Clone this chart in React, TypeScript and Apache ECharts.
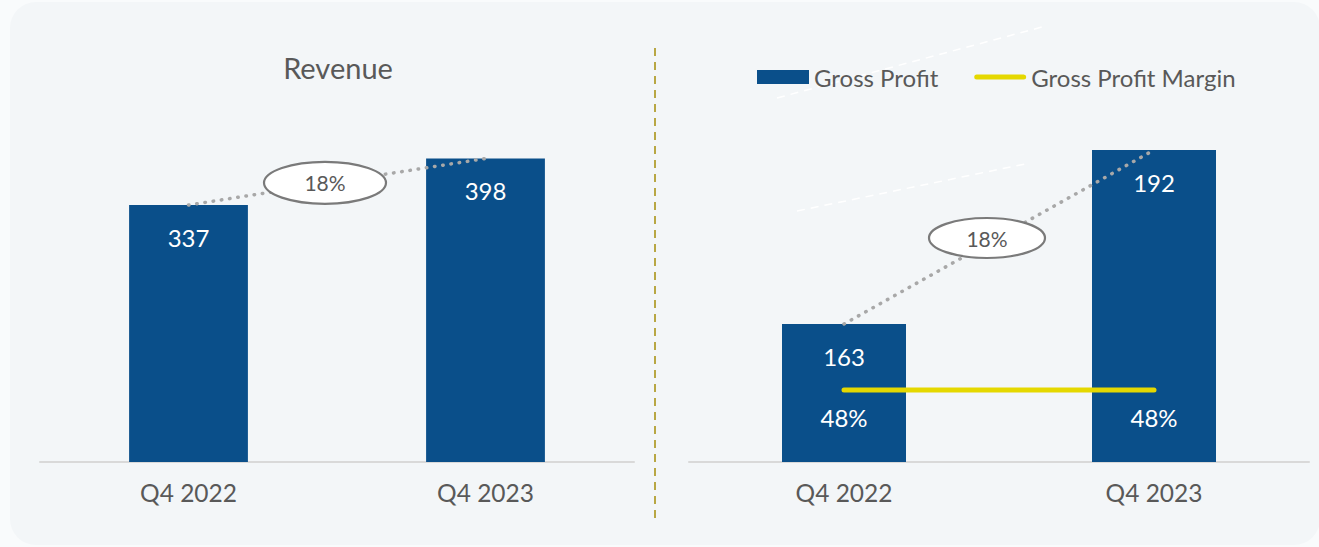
import React, { useEffect, useRef } from "react";
import * as echarts from "echarts";

const categories = ["Q4 2022", "Q4 2023"];
const revenue = [337, 398];
const grossProfit = [163, 192];
const grossMargin = [48, 48];
const growthLabels = ["18%", "18%"];
const leftTitle = "Revenue";
const legendNames = ["Gross Profit", "Gross Profit Margin"];

export default function App() {
  const ref = useRef<HTMLDivElement>(null);

  useEffect(() => {
    const chart = echarts.init(ref.current!, null, { renderer: "svg" });
    const font = "Lato, 'Open Sans', sans-serif";
    const grey = "#595959";
    const blue = "#0a4f8a";
    const yellow = "#e5d800";
    const dotted = {
      type: [0.5, 7.8] as any,
      width: 3.5,
      cap: "round" as const,
      color: "#a8a8a8",
    };
    const axisX = (gi: number, fs: number) => ({
      type: "category",
      gridIndex: gi,
      data: categories,
      axisLine: { lineStyle: { color: "#d9d9d9", width: 2 } },
      axisTick: { show: false },
      axisLabel: { color: grey, fontSize: fs, fontFamily: font, margin: 18 },
    });
    const valueLabel = {
      show: true,
      position: "insideTop",
      distance: 20,
      color: "#ffffff",
      fontSize: 24,
      fontFamily: font,
    };

    chart.setOption({
      animation: false,
      backgroundColor: "#f9fbfc",
      grid: [
        { left: 40, width: 594, top: 157, height: 305 },
        { left: 689, width: 620, top: 132, height: 330 },
      ],
      legend: {
        left: 752,
        top: 60,
        itemWidth: 52,
        itemHeight: 14,
        itemGap: 36,
        textStyle: { color: grey, fontSize: 24, fontFamily: font },
        data: [
          { name: legendNames[0], icon: "rect" },
          {
            name: legendNames[1],
            icon: "path://M2.5,0H49.5A2.5,2.5,0,0,1,49.5,5H2.5A2.5,2.5,0,0,1,2.5,0Z",
          },
        ],
      },
      xAxis: [axisX(0, 24.5), axisX(1, 24.5)],
      yAxis: [
        { type: "value", gridIndex: 0, min: 0, max: 400, show: false },
        { type: "value", gridIndex: 1, min: 140, max: 195, show: false },
        { type: "value", gridIndex: 1, min: 0, max: 220, show: false },
      ],
      series: [
        {
          name: leftTitle,
          type: "bar",
          xAxisIndex: 0,
          yAxisIndex: 0,
          data: revenue,
          barWidth: "40%",
          itemStyle: { color: blue },
          label: valueLabel,
        },
        {
          name: "Revenue growth",
          type: "line",
          xAxisIndex: 0,
          yAxisIndex: 0,
          data: revenue,
          symbol: "none",
          lineStyle: dotted,
          z: 3,
        },
        {
          name: legendNames[0],
          type: "bar",
          xAxisIndex: 1,
          yAxisIndex: 1,
          data: grossProfit,
          barWidth: "40%",
          itemStyle: { color: blue },
          label: valueLabel,
        },
        {
          name: "Gross profit growth",
          type: "line",
          xAxisIndex: 1,
          yAxisIndex: 1,
          data: grossProfit,
          symbol: "none",
          lineStyle: dotted,
          z: 3,
        },
        {
          name: legendNames[1],
          type: "line",
          xAxisIndex: 1,
          yAxisIndex: 2,
          data: grossMargin,
          symbol: "none",
          itemStyle: { color: yellow },
          lineStyle: { color: yellow, width: 5, cap: "round" },
          z: 4,
        },
        {
          name: "Gross Profit Margin labels",
          type: "scatter",
          xAxisIndex: 1,
          yAxisIndex: 2,
          data: grossMargin,
          symbolSize: 1,
          itemStyle: { color: yellow, opacity: 1 },
          label: {
            show: true,
            position: "bottom",
            distance: 15,
            color: "#ffffff",
            opacity: 1,
            fontSize: 24,
            fontFamily: font,
            formatter: "{c}%",
          },
          z: 5,
        },
      ],
    });

    const px = (axis: number, yAxis: number, i: number, v: number) =>
      chart.convertToPixel({ xAxisIndex: axis, yAxisIndex: yAxis }, [i, v]) as number[];
    const ellipseAt = (a: number[], b: number[], text: string, rx: number, ry: number) => {
      const cx = (a[0] + b[0]) / 2 - 12;
      const cy = (a[1] + b[1]) / 2 + 1;
      return [
        {
          type: "ellipse",
          shape: { cx, cy, rx, ry },
          style: { fill: "#ffffff", stroke: "#7a7a7a", lineWidth: 2.2 },
          z: 10,
        },
        {
          type: "text",
          x: cx,
          y: cy,
          style: {
            text,
            align: "center",
            verticalAlign: "middle",
            fill: grey,
            fontSize: 21,
            fontFamily: font,
          },
          z: 11,
        },
      ];
    };
    const l0 = px(0, 0, 0, revenue[0]);
    const l1 = px(0, 0, 1, revenue[1]);
    const r0 = px(1, 1, 0, grossProfit[0]);
    const r1 = px(1, 1, 1, grossProfit[1]);

    chart.setOption({
      graphic: [
        {
          type: "rect",
          shape: { x: 10, y: 2, width: 1310, height: 543, r: 26 },
          style: { fill: "#f3f6f8" },
          z: -10,
          silent: true,
        },
        {
          type: "line",
          shape: { x1: 655, y1: 48, x2: 655, y2: 518 },
          style: { stroke: "#b8a744", lineWidth: 2, lineDash: [8, 6] },
          z: -5,
        },
        {
          type: "line",
          shape: { x1: 777, y1: 98, x2: 1042, y2: 27 },
          style: { stroke: "#ffffff", lineWidth: 1.5, lineDash: [8, 6] },
          z: -5,
        },
        {
          type: "line",
          shape: { x1: 797, y1: 211, x2: 1025, y2: 164 },
          style: { stroke: "#ffffff", lineWidth: 1.5, lineDash: [8, 6] },
          z: -5,
        },
        {
          type: "text",
          x: 338,
          y: 67,
          style: {
            text: leftTitle,
            align: "center",
            verticalAlign: "middle",
            fill: grey,
            fontSize: 29,
            fontFamily: font,
          },
        },
        ...ellipseAt(l0, l1, growthLabels[0], 61, 21),
        ...ellipseAt(r0, r1, growthLabels[1], 58, 20),
      ],
    });

    return () => chart.dispose();
  }, []);

  return (
    <div
      ref={ref}
      style={{ position: "fixed", left: 0, top: 0, width: 1319, height: 547 }}
    />
  );
}
